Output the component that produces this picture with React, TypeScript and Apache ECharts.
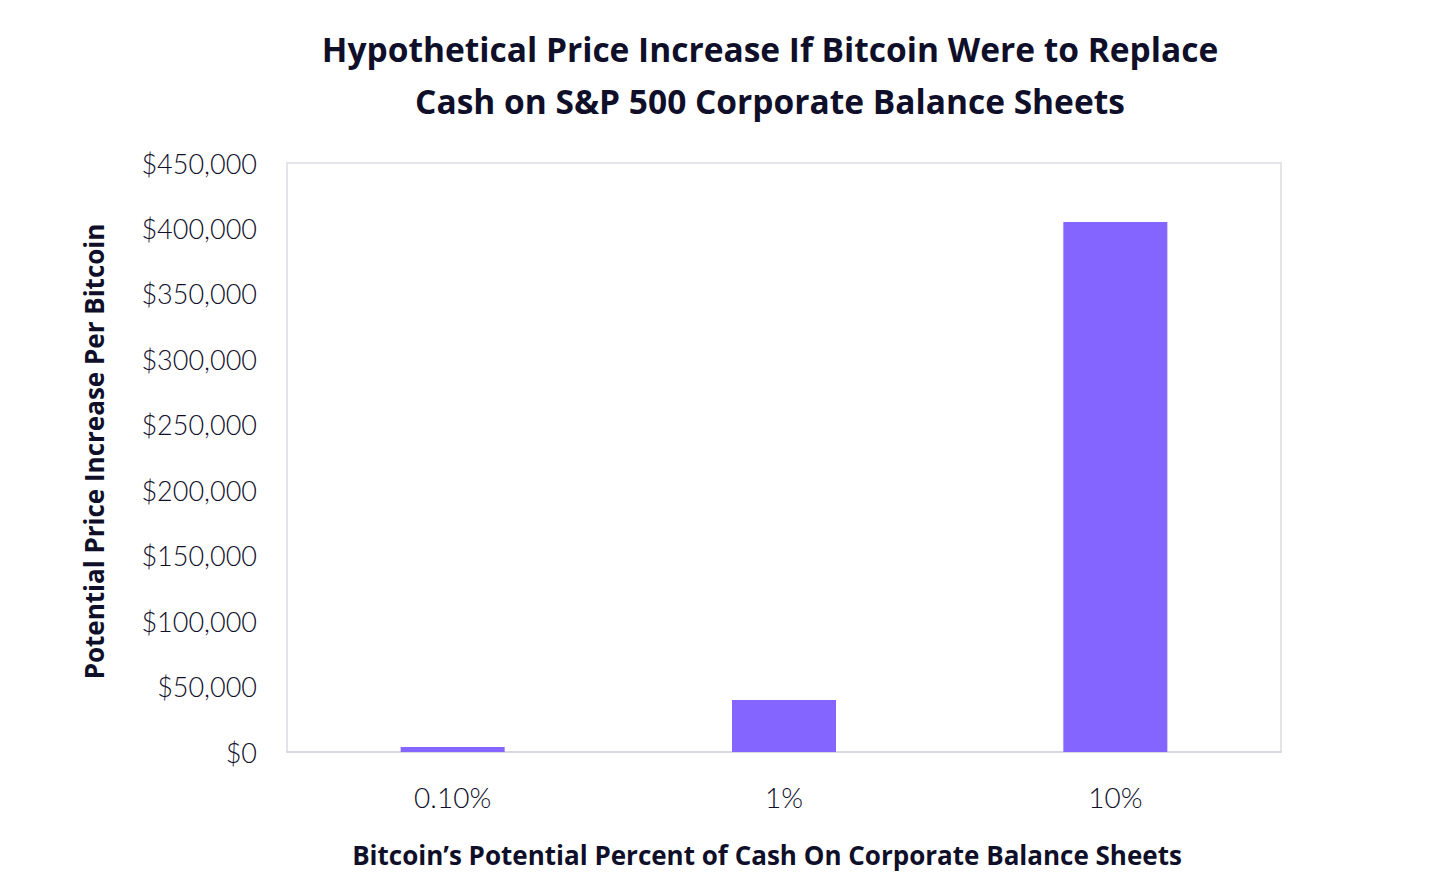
import { useEffect, useRef } from 'react';
import * as echarts from 'echarts';

const categories = ['0.10%', '1%', '10%'];
const priceIncrease = [3800, 39800, 405000];
const yTicks = [0, 50000, 100000, 150000, 200000, 250000, 300000, 350000, 400000, 450000];

const titleText = 'Hypothetical Price Increase If Bitcoin Were to Replace\nCash on S&P 500 Corporate Balance Sheets';
const xName = 'Bitcoin\u2019s Potential Percent of Cash On Corporate Balance Sheets';
const yName = 'Potential Price Increase Per Bitcoin';

const LABEL_FONT = 'Lato, "Noto Sans", sans-serif';
const HEAD_FONT = '"Open Sans", Lato, sans-serif';
const INK = '#0f0f2a';

const fmt = (v: number) => '$' + v.toLocaleString('en-US');

export default function App() {
  const chartRef = useRef<HTMLDivElement>(null);

  useEffect(() => {
    if (!chartRef.current) return;
    const chart = echarts.init(chartRef.current, undefined, { renderer: 'svg' });
    chart.setOption({
      animation: false,
      backgroundColor: '#ffffff',
      textStyle: { fontFamily: LABEL_FONT },
      title: {
        text: titleText,
        left: 757,
        top: 10,
        textAlign: 'center',
        textStyle: {
          fontFamily: HEAD_FONT,
          fontSize: 33.5,
          fontWeight: 'bold',
          color: INK,
          lineHeight: 52,
        },
      },
      // the page has an 8px body margin, so the grid is set 8px up and left
      grid: { left: 279, top: 155, right: 157, bottom: 131, show: true, borderColor: '#dcdce6', borderWidth: 1.5 },
      xAxis: {
        type: 'category',
        data: categories,
        name: xName,
        nameLocation: 'middle',
        nameGap: 90,
        nameTextStyle: { fontFamily: HEAD_FONT, fontSize: 26, fontWeight: 'bold', color: INK, padding: [0, 34, 0, 0] },
        axisLine: { lineStyle: { color: '#d4d4dc', width: 1.5 } },
        axisTick: { show: false },
        axisLabel: { fontFamily: LABEL_FONT, fontSize: 28, fontWeight: 300, color: INK, margin: 31 },
      },
      yAxis: {
        type: 'value',
        min: yTicks[0],
        max: yTicks[yTicks.length - 1],
        interval: yTicks[1] - yTicks[0],
        name: yName,
        nameLocation: 'middle',
        nameGap: 180,
        nameTextStyle: { fontFamily: HEAD_FONT, fontSize: 26, fontWeight: 'bold', color: INK, padding: [0, 0, 0, 12] },
        axisLine: { show: false },
        axisTick: { show: false },
        splitLine: { show: false },
        axisLabel: { fontFamily: LABEL_FONT, fontSize: 27, fontWeight: 300, color: INK, margin: 30, formatter: fmt },
      },
      series: [
        {
          type: 'bar',
          data: priceIncrease,
          barWidth: 104,
          itemStyle: { color: '#8465ff' },
        },
      ],
    });
    return () => chart.dispose();
  }, []);

  return <div ref={chartRef} style={{ width: 1430, height: 875 }} />;
}
